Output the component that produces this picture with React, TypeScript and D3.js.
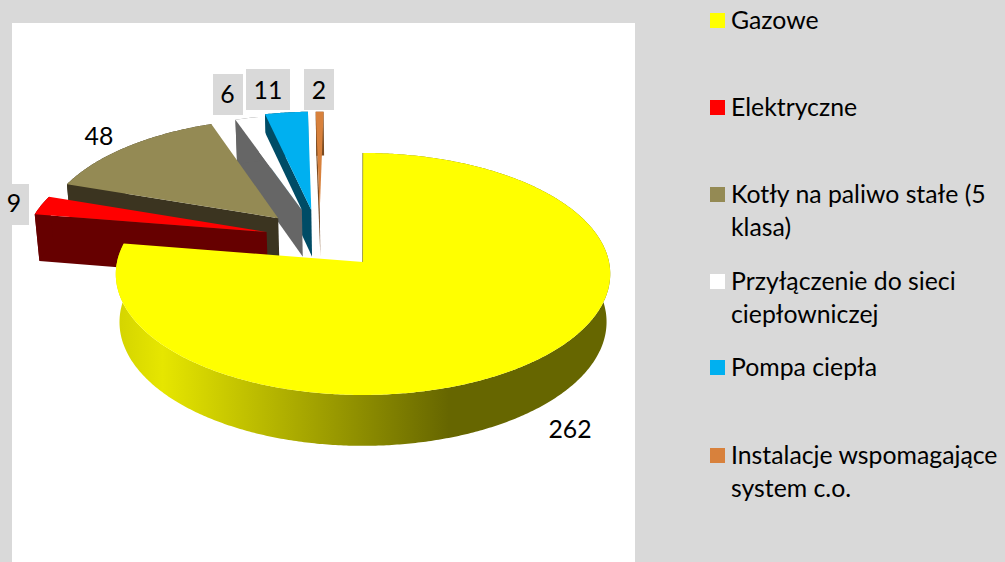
import React from "react";
import * as d3 from "d3";

const categories = ["Gazowe", "Elektryczne", "Kotły na paliwo stałe (5 klasa)", "Przyłączenie do sieci ciepłowniczej", "Pompa ciepła", "Instalacje wspomagające system c.o."];
const values = [262, 9, 48, 6, 11, 2];
const topColors = ["#ffff00", "#ff0000", "#948a54", "#ffffff", "#00b0f0", "#d8813c"];
const wallColors = ["url(#yw)", "#660000", "#3b3420", "#666666", "#004c66", "#7a4a20"];
// exploded apex of every slice, in units of the pie radius on the pie plane
const explodeU = [-0.006, -0.408, -0.364, -0.266, -0.226, -0.19];
const explodeV = [0, 0.257, 0.38, 0.453, 0.453, 0.453];
const radii = [1, 1, 0.98, 0.95, 0.98, 0.98];
const drawOrder = [5, 4, 3, 2, 1, 0];

const legendLines = [["Gazowe"], ["Elektryczne"], ["Kotły na paliwo stałe (5", "klasa)"], ["Przyłączenie do sieci", "ciepłowniczej"], ["Pompa ciepła"], ["Instalacje wspomagające", "system c.o."]];
const legendTop = [13, 100, 187, 274, 360, 448];

const labelBoxes = [
  { t: "262", x: 570, y: 438, box: null },
  { t: "9", x: 14, y: 212, box: [0, 184, 29, 41] },
  { t: "48", x: 99, y: 145, box: null },
  { t: "6", x: 227.5, y: 103, box: [213, 74, 30, 41] },
  { t: "11", x: 268, y: 99, box: [246, 69, 44, 41] },
  { t: "2", x: 319, y: 99, box: [304, 69, 30, 41] },
];

const CX = 364.5, CY = 262, A = 246, B = 119.8, K = 0.099, D = 48.6, NARROW = 0.015;
const project = (u: number, v: number, z: number): [number, number] => {
  const w = 1 + K * v + NARROW * -z;
  return [CX + (A * u) / w, CY - (B * v + D * z) / w];
};
const line = d3.line<[number, number]>();
const FONT = "Lato, Carlito, sans-serif";

export default function App() {
  const arcs = d3.pie<number>().sort(null)(values);
  const pts = (i: number, a0: number, a1: number, z: number) => {
    const n = Math.max(2, Math.ceil(Math.abs(a1 - a0) / 0.01));
    return d3.range(n + 1).map((j) => {
      const a = a0 + ((a1 - a0) * j) / n;
      return project(explodeU[i] + radii[i] * Math.sin(a), explodeV[i] + radii[i] * Math.cos(a), z);
    });
  };
  return (
    <svg width={1005} height={562} style={{ position: "fixed", left: 0, top: 0, display: "block" }}>
      <defs>
        <linearGradient id="yw" gradientUnits="userSpaceOnUse" x1={118} x2={612} y1={0} y2={0}>
          <stop offset="0" stopColor="#d4d400" />
          <stop offset="0.09" stopColor="#e6e600" />
          <stop offset="0.67" stopColor="#666600" />
          <stop offset="1" stopColor="#666600" />
        </linearGradient>
      </defs>
      <rect width={1005} height={562} fill="#d9d9d9" />
      <rect x={12} y={23} width={623} height={539} fill="#ffffff" />
      {drawOrder.map((i) => {
        const { startAngle: s, endAngle: e } = arcs[i];
        const apexTop = project(explodeU[i], explodeV[i], 0);
        const apexBot = project(explodeU[i], explodeV[i], -1);
        const outerTop = pts(i, s, e, 0);
        const outerBot = pts(i, s, e, -1);
        const arcWall = [...outerTop, ...outerBot.slice().reverse()];
        const edgeWall = [apexTop, outerTop[0], outerBot[0], apexBot];
        const top = [apexTop, ...outerTop];
        return (
          <g key={i}>
            <path d={line(edgeWall) + "Z"} fill={i === 0 ? "#7a7a00" : wallColors[i]} stroke={i === 0 ? "#7a7a00" : "none"} />
            <path d={line(arcWall) + "Z"} fill={wallColors[i]} />
            <path d={line(top) + "Z"} fill={topColors[i]} />
          </g>
        );
      })}
      {labelBoxes.map((l) => (
        <g key={l.t}>
          {l.box && <rect x={l.box[0]} y={l.box[1]} width={l.box[2]} height={l.box[3]} fill="#d9d9d9" />}
          <text x={l.x} y={l.y} textAnchor="middle" fontFamily={FONT} fontSize={24.8} fill="#000">{l.t}</text>
        </g>
      ))}
      {categories.map((c, i) => (
        <g key={c}>
          <rect x={710} y={legendTop[i]} width={15} height={15} fill={topColors[i]} />
          {legendLines[i].map((t, j) => (
            <text key={j} x={731} y={legendTop[i] + 16 + j * 33} fontFamily={FONT} fontSize={24.8} fill="#000">{t}</text>
          ))}
        </g>
      ))}
    </svg>
  );
}
